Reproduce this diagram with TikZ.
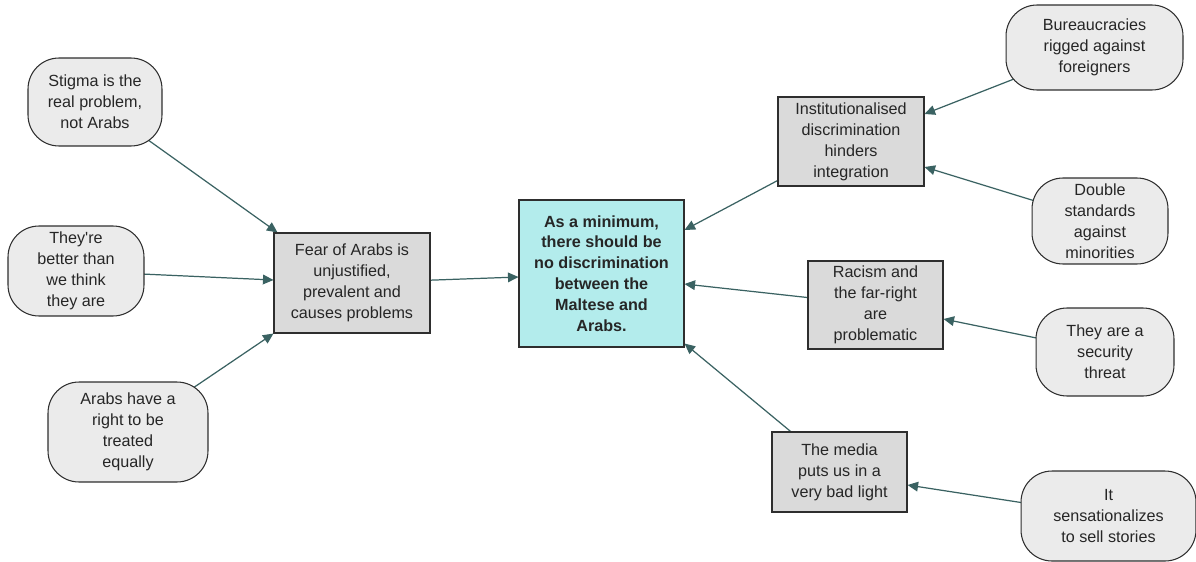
\documentclass[tikz,border=0pt]{standalone}
\usepackage{fontspec}
\setmainfont{Liberation Sans}
\usetikzlibrary{arrows.meta,calc,backgrounds}
\definecolor{bubblefill}{HTML}{EBEBEB}
\definecolor{boxfill}{HTML}{DADADA}
\definecolor{mainfill}{HTML}{B3ECEC}
\definecolor{edgecol}{HTML}{3A6262}
\definecolor{bordercol}{HTML}{2E2E2E}
\begin{document}
\begin{tikzpicture}[x=0.02cm,y=-0.02cm,
  every node/.style={font=\fontsize{9.2}{11.9}\selectfont, align=center, inner sep=0pt, text=black!85},
  bubble/.style={draw=bordercol, line width=0.6pt, fill=bubblefill, rounded corners=0.62cm},
  claim/.style={draw=bordercol, line width=0.6pt, fill=boxfill},
  mainclaim/.style={draw=bordercol, line width=0.6pt, fill=mainfill, font=\fontsize{9.2}{11.9}\selectfont\bfseries},
  link/.style={draw=edgecol, line width=0.7pt, -{Triangle[length=6pt,width=5.5pt]}}
]
\useasboundingbox (0,0) rectangle (1196,561);

% central claim and supporting boxes
\node[mainclaim, minimum width=3.30cm, minimum height=2.94cm] (main) at (601.5,273.5)
  {As a minimum,\\there should be\\no discrimination\\between the\\Maltese and\\Arabs.};
\node[claim, minimum width=3.12cm, minimum height=2.00cm] (fear) at (352,283)
  {Fear of Arabs is\\unjustified,\\prevalent and\\causes problems};
\node[claim, minimum width=2.92cm, minimum height=1.78cm] (inst) at (851,141.5)
  {Institutionalised\\discrimination\\hinders\\integration};
\node[claim, minimum width=2.70cm, minimum height=1.76cm] (racism) at (875.5,305)
  {Racism and\\the far-right\\are\\problematic};
\node[claim, minimum width=2.70cm, minimum height=1.60cm] (media) at (839.5,472)
  {The media\\puts us in a\\very bad light};

% rounded premises
\node[bubble, minimum width=2.68cm, minimum height=1.76cm] (stigma) at (95,102)
  {Stigma is the\\real problem,\\not Arabs};
\node[bubble, minimum width=2.72cm, minimum height=1.80cm] (better) at (76,271)
  {They\textquotesingle re\\better than\\we think\\they are};
\node[bubble, minimum width=3.20cm, minimum height=2.00cm] (equal) at (128,432)
  {Arabs have a\\right to be\\treated\\equally};
\node[bubble, minimum width=3.54cm, minimum height=1.70cm] (bureau) at (1094.5,47.5)
  {Bureaucracies\\rigged against\\foreigners};
\node[bubble, minimum width=2.72cm, minimum height=1.72cm] (double) at (1100,221)
  {Double\\standards\\against\\minorities};
\node[bubble, minimum width=2.76cm, minimum height=1.76cm] (threat) at (1105,352)
  {They are a\\security\\threat};
\node[bubble, minimum width=3.50cm, minimum height=1.80cm] (sensation) at (1108.5,516)
  {It\\sensationalizes\\to sell stories};

% connectors, drawn behind the shapes
\begin{pgfonlayer}{background}
\draw[link] (stigma.center) -- ($(fear.north west)+(4,0)$);
\draw[link] (better.center) -- ($(fear.west)+(0,-3)$);
\draw[link] (equal.center) -- (fear.south west);
\draw[link] (fear.center) -- ($(main.west)+(0,3.5)$);
\draw[link] (inst.center) -- ($(main.east)+(0,-43.5)$);
\draw[link] (racism.center) -- ($(main.east)+(0,10.5)$);
\draw[link] (media.center) -- ($(main.south east)+(0,-4)$);
\draw[link] (bureau.center) -- ($(inst.east)+(0,-27.5)$);
\draw[link] (double.center) -- ($(inst.east)+(0,25.5)$);
\draw[link] (threat.center) -- ($(racism.east)+(0,14)$);
\draw[link] (sensation.center) -- ($(media.east)+(0,13)$);
\end{pgfonlayer}
\end{tikzpicture}
\end{document}
